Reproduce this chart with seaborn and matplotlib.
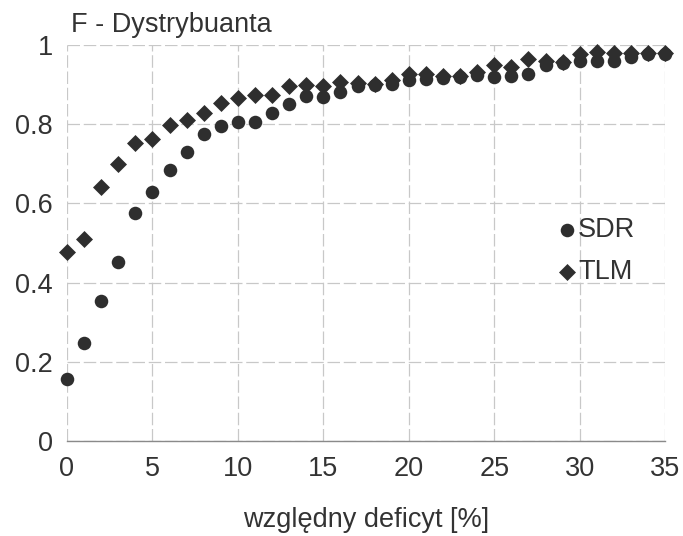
import matplotlib
matplotlib.use("Agg")
import matplotlib.pyplot as plt
import seaborn as sns
import pandas as pd

deficit = list(range(0, 36))
sdr = [0.158, 0.247, 0.354, 0.453, 0.575, 0.630, 0.684, 0.729, 0.775, 0.795,
       0.806, 0.806, 0.829, 0.850, 0.871, 0.870, 0.882, 0.896, 0.899, 0.902,
       0.912, 0.913, 0.918, 0.920, 0.925, 0.920, 0.922, 0.928, 0.949, 0.955,
       0.960, 0.960, 0.960, 0.970, 0.977, 0.978]
tlm = [0.478, 0.510, 0.642, 0.699, 0.753, 0.764, 0.797, 0.811, 0.829, 0.853,
       0.865, 0.874, 0.874, 0.896, 0.899, 0.897, 0.907, 0.903, 0.902, 0.912,
       0.928, 0.926, 0.921, 0.922, 0.933, 0.949, 0.945, 0.965, 0.960, 0.958,
       0.977, 0.983, 0.981, 0.981, 0.979, 0.979]
xticks = [0, 5, 10, 15, 20, 25, 30, 35]
yticks = [0, 0.2, 0.4, 0.6, 0.8, 1.0]
ytick_labels = ["0", "0.2", "0.4", "0.6", "0.8", "1"]

df = pd.DataFrame({"x": deficit, "SDR": sdr, "TLM": tlm})

sns.set_style("white")
plt.rcParams["font.family"] = ["Liberation Sans", "DejaVu Sans"]

fig = plt.figure(figsize=(6.83, 5.36), dpi=100)
ax = fig.add_axes([0.098, 0.177, 0.876, 0.739])

mcol = "#2e2e2e"
tcol = "#333333"
fs = 19.5
sns.scatterplot(data=df, x="x", y="SDR", marker="o", s=95, color=mcol,
                linewidth=0, ax=ax, label="SDR", clip_on=False, zorder=3)
sns.scatterplot(data=df, x="x", y="TLM", marker="D", s=75, color=mcol,
                linewidth=0, ax=ax, label="TLM", clip_on=False, zorder=4)

ax.set_xlim(0, 35)
ax.set_ylim(0, 1)
ax.set_xticks(xticks)
ax.set_yticks(yticks)
ax.set_yticklabels(ytick_labels)
ax.tick_params(axis="x", length=0, pad=11, labelsize=fs, labelcolor=tcol)
ax.tick_params(axis="y", length=0, pad=10, labelsize=fs, labelcolor=tcol)

ax.grid(True, color="#c8c8c8", linewidth=0.9, linestyle=(0, (10, 3)))
ax.set_axisbelow(True)
for side in ["top", "right", "left"]:
    ax.spines[side].set_visible(False)
ax.spines["bottom"].set_color("#8a8a8a")
ax.spines["bottom"].set_linewidth(1.0)

ax.set_xlabel("względny deficyt [%]", fontsize=fs, color=tcol, labelpad=18)
ax.set_ylabel("")
ax.text(0.006, 1.034, "F - Dystrybuanta", transform=ax.transAxes,
        fontsize=fs, color=tcol, va="baseline", ha="left")

ax.legend(frameon=False, loc="center left", bbox_to_anchor=(0.782, 0.48),
          fontsize=fs, handletextpad=0.1, labelspacing=0.57, handlelength=0.6,
          labelcolor=tcol)

fig.savefig("out.png", dpi=100)
